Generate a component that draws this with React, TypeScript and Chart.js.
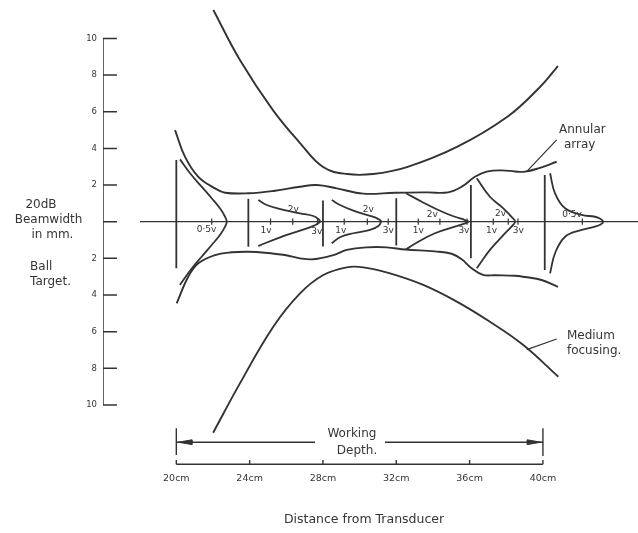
import React, { useEffect, useRef } from 'react';
import { Chart, registerables } from 'chart.js';

Chart.register(...registerables);

type P = [number, number];

// ---- axes ----
const depthTicks = [20, 24, 28, 32, 36, 40]; // cm
const beamTicks = [-10, -8, -6, -4, -2, 0, 2, 4, 6, 8, 10]; // mm

// ---- beam envelopes: [depth cm, half beamwidth mm] ----
const mediumUpper: P[] = [[22.02, 11.55], [23.47, 8.82], [25.27, 6.09], [26.75, 4.29], [28.01, 2.98], [29.32, 2.6], [30.73, 2.6], [32.58, 2.98], [35.31, 4.08], [38.04, 5.71], [39.84, 7.35], [40.82, 8.49]];
const mediumLower: P[] = [[22.01, -11.51], [23.47, -8.82], [25.29, -5.73], [26.75, -3.91], [28.02, -2.91], [29.3, -2.49], [30.2, -2.49], [31.66, -2.82], [33.47, -3.45], [35.3, -4.36], [37.11, -5.46], [38.93, -6.73], [40.84, -8.46]];
const annularUpper: P[] = [[19.93, 5.0], [20.47, 3.55], [21.2, 2.45], [22.11, 1.82], [22.66, 1.58], [23.93, 1.55], [25.38, 1.69], [26.75, 1.91], [27.66, 2.0], [28.75, 1.82], [30.2, 1.53], [31.93, 1.58], [33.73, 1.6], [34.82, 1.6], [35.57, 1.91], [36.29, 2.45], [36.93, 2.73], [37.75, 2.8], [38.48, 2.74], [39.02, 2.73], [39.75, 2.91], [40.75, 3.27]];
const annularLower: P[] = [[20.02, -4.45], [20.65, -3.0], [21.2, -2.27], [22.11, -1.82], [23.02, -1.67], [23.93, -1.64], [24.84, -1.69], [25.93, -1.82], [26.75, -2.0], [27.48, -2.05], [28.57, -1.82], [29.3, -1.54], [30.39, -1.4], [31.48, -1.4], [32.5, -1.52], [34.11, -1.62], [35.02, -1.75], [35.57, -2.05], [36.11, -2.54], [36.73, -2.9], [37.39, -2.92], [38.48, -2.95], [39.02, -3.02], [39.93, -3.18], [40.82, -3.56]];

// ---- echo pulses at each depth ----
const pulse20: P[] = [[20.2, 3.4], [20.75, 2.64], [21.38, 1.91], [21.93, 1.28], [22.38, 0.73], [22.66, 0.27], [22.75, 0], [22.66, -0.27], [22.38, -0.73], [21.93, -1.27], [21.38, -1.91], [20.85, -2.54], [20.38, -3.18], [20.2, -3.45]];
const pulse24: P[] = [[24.47, 1.18], [24.93, 0.91], [25.84, 0.64], [26.75, 0.46], [27.48, 0.31], [27.78, 0.12], [27.84, 0], [27.78, -0.06], [27.48, -0.23], [26.75, -0.49], [25.66, -0.85], [24.47, -1.33]];
const pulse28: P[] = [[28.48, 1.18], [28.93, 0.91], [29.66, 0.6], [30.39, 0.37], [30.84, 0.24], [31.11, 0.09], [31.17, 0], [31.02, -0.23], [30.57, -0.45], [29.66, -0.63], [28.93, -0.85], [28.48, -1.18]];
const pulse32: P[] = [[32.53, 1.55], [33.39, 1.09], [34.29, 0.64], [35.2, 0.27], [35.75, 0.09], [35.93, 0], [35.75, -0.09], [35.2, -0.27], [34.11, -0.63], [33.2, -1.09], [32.53, -1.51]];
const pulse36: P[] = [[36.39, 2.37], [37.11, 1.36], [37.84, 0.73], [38.3, 0.25], [38.48, 0], [38.3, -0.25], [37.84, -0.73], [37.11, -1.54], [36.39, -2.54]];
const pulse40: P[] = [[40.39, 2.64], [40.66, 1.55], [41.21, 0.73], [42.11, 0.37], [42.84, 0.27], [43.15, 0.15], [43.29, 0], [43.15, -0.15], [42.84, -0.27], [42.11, -0.45], [41.21, -0.82], [40.66, -1.72], [40.39, -2.82]];

// reference bars (baseline) of each pulse
const barDepth = [20.0, 23.93, 28.0, 32.0, 36.07, 40.1];
const barTop = [3.37, 1.25, 1.15, 1.28, 2.0, 2.55];
const barBottom = [-2.54, -1.36, -1.35, -1.3, -2.0, -2.64];

// voltage markers along the axis
const voltTickDepth = [21.93, 25.14, 26.35, 27.7, 29.16, 30.42, 31.56, 33.2, 34.38, 35.86, 37.29, 38.11, 38.64, 42.15];
const voltLabels = ['0·5v', '1v', '2v', '3v', '1v', '2v', '3v', '1v', '2v', '3v', '1v', '2v', '3v', '0·5v'];
const voltLabelDepth = [21.65, 24.89, 26.38, 27.66, 28.97, 30.47, 31.56, 33.2, 33.97, 35.69, 37.2, 37.69, 38.66, 41.59];
const voltLabelBeam = [-0.45, -0.49, 0.68, -0.55, -0.49, 0.68, -0.49, -0.51, 0.4, -0.51, -0.51, 0.46, -0.51, 0.37];

// texts
const yTitleLines = ['20dB', 'Beamwidth', 'in mm.'];
const yNoteLines = ['Ball', 'Target.'];
const annularLines = ['Annular', 'array'];
const mediumLines = ['Medium', 'focusing.'];
const workingLines = ['Working', 'Depth.'];
const xTitle = 'Distance from Transducer';

// ---- geometry ----
const X_MIN = 16;
const X_MAX = 45.187;
const Y_MIN = -13.546;
const Y_MAX = 12.095;
const X_AXIS_Y = -13.235;
const WORK_Y = -12.03;

const INK = '#333333';
const TEXT = '#353535';
const FONT = '"DejaVu Sans", sans-serif';

const pts = (a: P[]) => a.map(([x, y]) => ({ x, y }));
const segs = (list: [P, P][]) =>
  list.flatMap(([a, b]) => [{ x: a[0], y: a[1] }, { x: b[0], y: b[1] }, { x: b[0], y: null as any }]);

const ds = (data: any[], width = 1.7, tension = 0, extra: any = {}) => ({
  data,
  showLine: true,
  borderColor: INK,
  backgroundColor: INK,
  borderWidth: width,
  pointRadius: 0,
  pointHoverRadius: 0,
  tension,
  fill: false,
  spanGaps: false,
  ...extra,
});

type Note = { text: string; x: number; y: number; align: CanvasTextAlign; size: number };

const notes: Note[] = [
  { text: yTitleLines[0], x: 12.62, y: 0.91, align: 'center', size: 12 },
  { text: yTitleLines[1], x: 13.03, y: 0.09, align: 'center', size: 12 },
  { text: yTitleLines[2], x: 13.24, y: -0.73, align: 'center', size: 12 },
  { text: yNoteLines[0], x: 12.02, y: -2.45, align: 'left', size: 12 },
  { text: yNoteLines[1], x: 12.02, y: -3.27, align: 'left', size: 12 },
  { text: annularLines[0], x: 40.88, y: 5.0, align: 'left', size: 12 },
  { text: annularLines[1], x: 41.15, y: 4.18, align: 'left', size: 12 },
  { text: mediumLines[0], x: 41.31, y: -6.23, align: 'left', size: 12 },
  { text: mediumLines[1], x: 41.31, y: -7.05, align: 'left', size: 12 },
  { text: workingLines[0], x: 29.58, y: -11.58, align: 'center', size: 12 },
  { text: workingLines[1], x: 29.86, y: -12.49, align: 'center', size: 12 },
  { text: xTitle, x: 30.24, y: -16.24, align: 'center', size: 12.5 },
  ...voltLabels.map((t, i) => ({ text: t, x: voltLabelDepth[i], y: voltLabelBeam[i], align: 'center' as CanvasTextAlign, size: 9 })),
];

const textPlugin = {
  id: 'textNotes',
  afterDatasetsDraw(chart: any) {
    const { ctx, scales } = chart;
    const xs = scales.x;
    const ys = scales.y;
    ctx.save();
    ctx.fillStyle = TEXT;
    ctx.textBaseline = 'middle';
    for (const n of notes) {
      ctx.font = `${n.size}px ${FONT}`;
      ctx.textAlign = n.align;
      ctx.fillText(n.text, xs.getPixelForValue(n.x), ys.getPixelForValue(n.y));
    }
    ctx.restore();
  },
};

export default function App() {
  const ref = useRef<HTMLCanvasElement | null>(null);

  useEffect(() => {
    if (!ref.current) return;

    const yAxis = segs([
      [[X_MIN, -10], [X_MIN, 10]],
      ...beamTicks.map((v) => [[X_MIN, v], [X_MIN + 0.76, v]] as [P, P]),
    ]);
    const xAxis = segs([
      [[depthTicks[0], X_AXIS_Y], [depthTicks[depthTicks.length - 1], X_AXIS_Y]],
      ...depthTicks.map((v) => [[v, X_AXIS_Y], [v, X_AXIS_Y + 0.24]] as [P, P]),
    ]);
    const centre = segs([[[18.02, 0], [X_MAX, 0]]]);
    const bars = segs(barDepth.map((d, i) => [[d, barTop[i]], [d, barBottom[i]]] as [P, P]));
    const vticks = segs(voltTickDepth.map((d) => [[d, 0.17], [d, -0.17]] as [P, P]));
    const working = segs([
      [[20, -11.27], [20, -12.73]],
      [[40, -11.27], [40, -12.78]],
      [[20, WORK_Y], [27.57, WORK_Y]],
      [[31.38, WORK_Y], [40, WORK_Y]],
    ]);
    const arrowL = pts([[20.1, WORK_Y], [20.85, WORK_Y + 0.13], [20.85, WORK_Y - 0.13], [20.1, WORK_Y]]);
    const arrowR = pts([[39.9, WORK_Y], [39.15, WORK_Y + 0.13], [39.15, WORK_Y - 0.13], [39.9, WORK_Y]]);
    const leaders = segs([
      [[39.11, 2.73], [40.75, 4.46]],
      [[39.12, -6.98], [40.75, -6.4]],
    ]);

    const chart = new Chart(ref.current, {
      type: 'scatter',
      data: {
        datasets: [
          ds(yAxis, 1.5),
          ds(xAxis, 1.4),
          ds(centre, 1.2),
          ds(bars, 1.8),
          ds(vticks, 1.2),
          ds(working, 1.4),
          ds(arrowL, 1, 0, { fill: 'shape' }),
          ds(arrowR, 1, 0, { fill: 'shape' }),
          ds(leaders, 1.2),
          ds(pts(mediumUpper), 1.9, 0.4),
          ds(pts(mediumLower), 1.9, 0.4),
          ds(pts(annularUpper), 1.9, 0.4),
          ds(pts(annularLower), 1.9, 0.4),
          ds(pts(pulse20), 1.8, 0.4),
          ds(pts(pulse24), 1.8, 0.4),
          ds(pts(pulse28), 1.8, 0.4),
          ds(pts(pulse32), 1.8, 0.4),
          ds(pts(pulse36), 1.8, 0.4),
          ds(pts(pulse40), 1.8, 0.4),
        ] as any,
      },
      options: {
        animation: false,
        responsive: true,
        maintainAspectRatio: false,
        events: [],
        layout: { padding: 0 },
        plugins: { legend: { display: false }, tooltip: { enabled: false } },
        scales: {
          x: {
            type: 'linear',
            position: 'bottom',
            min: X_MIN,
            max: X_MAX,
            grid: { display: false, drawTicks: false },
            border: { display: false },
            afterBuildTicks: (s: any) => {
              s.ticks = depthTicks.map((v) => ({ value: v }));
            },
            afterFit: (s: any) => {
              s.height = 63;
              s.paddingLeft = 0;
              s.paddingRight = 0;
            },
            ticks: {
              autoSkip: false,
              maxRotation: 0,
              padding: 3,
              color: TEXT,
              font: { family: FONT, size: 9.5 },
              callback: (v: any) => `${v}cm`,
            },
          },
          y: {
            type: 'linear',
            position: 'left',
            min: Y_MIN,
            max: Y_MAX,
            grid: { display: false, drawTicks: false },
            border: { display: false },
            afterBuildTicks: (s: any) => {
              s.ticks = beamTicks.map((v) => ({ value: v }));
            },
            afterFit: (s: any) => {
              s.width = 103;
              s.paddingTop = 0;
              s.paddingBottom = 0;
            },
            ticks: {
              autoSkip: false,
              padding: 6,
              color: TEXT,
              font: { family: FONT, size: 8.5 },
              callback: (v: any) => (v === 0 ? '' : String(Math.abs(v))),
            },
          },
        },
      },
      plugins: [textPlugin],
    });

    return () => chart.destroy();
  }, []);

  return (
    <div style={{ position: 'fixed', left: 0, top: 0, width: 638, height: 533, background: '#ffffff' }}>
      <canvas ref={ref} style={{ display: 'block' }} />
    </div>
  );
}
